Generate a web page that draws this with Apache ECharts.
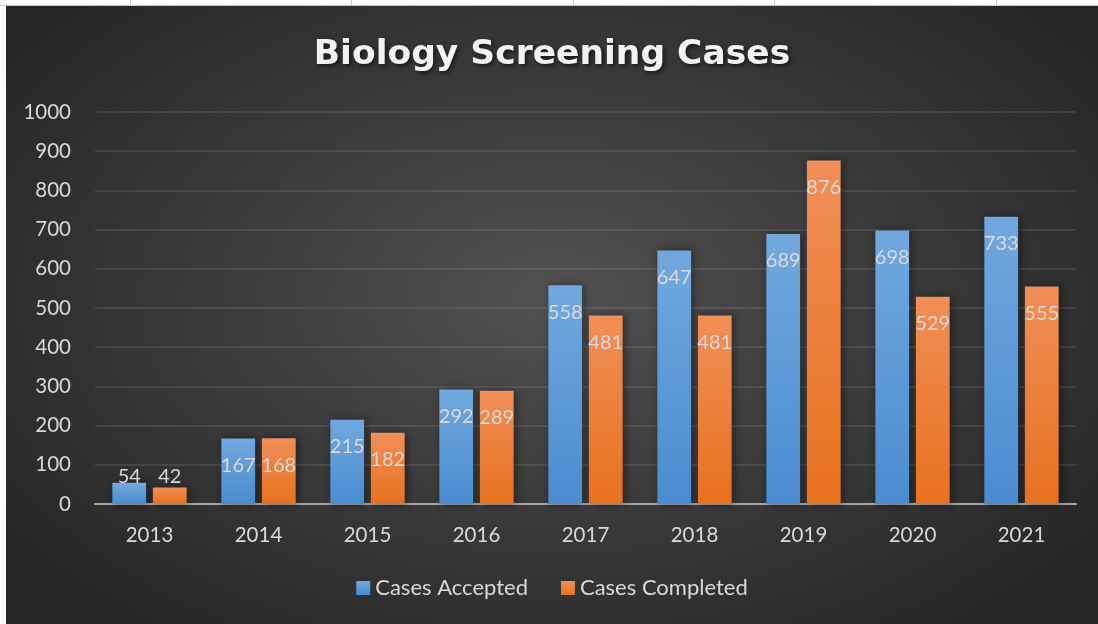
<!DOCTYPE html>
<html>
<head>
<meta charset="utf-8">
<script src="https://cdn.jsdelivr.net/npm/echarts@6/dist/echarts.min.js"></script>
<style>
    body { margin: 0; background: #fff; width: 1098px; height: 624px; overflow: hidden; position: relative; }
    /* sheet grid strip above the chart */
    .sheet { position: absolute; left: 0; top: 0; width: 1098px; height: 5px; border-bottom: 1px solid #c6c6c6; }
    .sheet i { position: absolute; top: 0; width: 1px; height: 5px; background: #c6c6c6; }
    #chart {
        position: absolute; left: 6px; top: 6px; width: 1092px; height: 618px;
        background: radial-gradient(ellipse 62% 68% at 50% 47%, #525252 0%, #3d3d3d 45%, #262626 100%);
    }
</style>
</head>
<body>
<div class="sheet">
    <i style="left:130px"></i><i style="left:351px"></i><i style="left:573px"></i><i style="left:774px"></i><i style="left:996px"></i>
</div>
<div id="chart"></div>
<script>
// 数据
const years = ['2013', '2014', '2015', '2016', '2017', '2018', '2019', '2020', '2021'];
const accepted = [54, 167, 215, 292, 558, 647, 689, 698, 733];
const completed = [42, 168, 182, 289, 481, 481, 876, 529, 555];
const seriesNames = ['Cases Accepted', 'Cases Completed'];

const font = 'Lato, "Open Sans", sans-serif';
const txt = '#d9d9d9';

let chart = echarts.init(document.getElementById('chart'), null, { width: 1092, height: 618 });

// short bars: label sits above the bar bottom instead of inside the top
function withLabels(values) {
    return values.map(v => v < 100 ? {
        value: v,
        label: { position: 'insideBottom', distance: 17 }
    } : v);
}

function barColor(top, bottom) {
    return new echarts.graphic.LinearGradient(0, 0, 0, 1, [
        { offset: 0, color: top },
        { offset: 1, color: bottom }
    ]);
}

const label = {
    show: true,
    position: 'insideTop',
    distance: 17,
    color: txt,
    fontFamily: font,
    fontSize: 20
};

chart.setOption({
    animation: false,
    backgroundColor: 'transparent',
    title: {
        text: 'Biology Screening Cases',
        left: 'center',
        top: 27,
        textStyle: {
            color: '#f2f2f2',
            fontFamily: '"DejaVu Sans", sans-serif',
            fontWeight: 'bold',
            fontSize: 34.5,
            textShadowColor: 'rgba(0,0,0,0.6)',
            textShadowBlur: 4,
            textShadowOffsetX: 2,
            textShadowOffsetY: 2
        }
    },
    legend: {
        data: seriesNames,
        bottom: 20,
        left: 'center',
        itemWidth: 14,
        itemHeight: 14,
        itemGap: 33,
        icon: 'rect',
        textStyle: { color: txt, fontFamily: font, fontSize: 22 }
    },
    grid: {
        left: 89,
        right: 22,
        top: 106,
        bottom: 120
    },
    xAxis: {
        type: 'category',
        data: years,
        axisLine: { lineStyle: { color: '#a6a6a6', width: 2 } },
        axisTick: { show: false },
        axisLabel: { color: txt, fontFamily: font, fontSize: 20.5, margin: 21 }
    },
    yAxis: {
        type: 'value',
        min: 0,
        max: 1000,
        interval: 100,
        axisLine: { show: false },
        axisTick: { show: false },
        axisLabel: { color: txt, fontFamily: font, fontSize: 20.5, margin: 24, formatter: v => String(v) },
        splitLine: { lineStyle: { color: 'rgba(255,255,255,0.13)', width: 1.5 } }
    },
    series: [{
            name: seriesNames[0],
            type: 'bar',
            data: withLabels(accepted),
            barWidth: '31%',
            barGap: '20%',
            itemStyle: {
                color: barColor('#72a8de', '#4a8cd0'),
                shadowColor: 'rgba(0,0,0,0.45)',
                shadowBlur: 8,
                shadowOffsetX: 2
            },
            label: label
        },
        {
            name: seriesNames[1],
            type: 'bar',
            data: withLabels(completed),
            barWidth: '31%',
            itemStyle: {
                color: barColor('#f18f58', '#e8711f'),
                shadowColor: 'rgba(0,0,0,0.45)',
                shadowBlur: 8,
                shadowOffsetX: 2
            },
            label: label
        }
    ]
});
</script>
</body>
</html>
